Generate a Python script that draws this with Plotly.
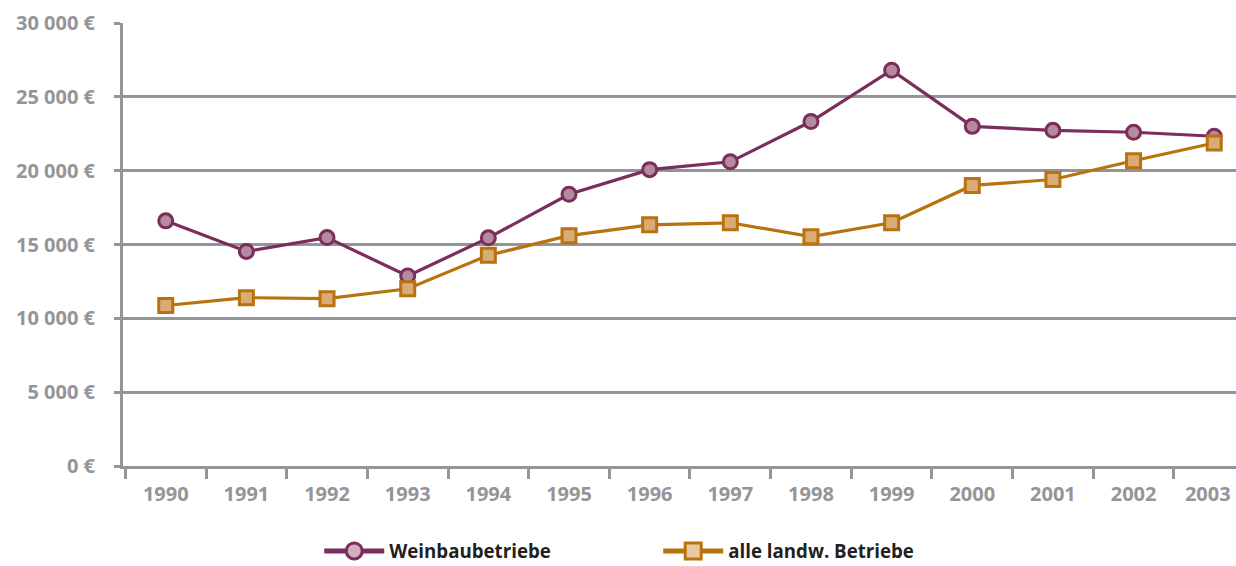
import plotly.graph_objects as go

years = ["1990", "1991", "1992", "1993", "1994", "1995", "1996", "1997",
         "1998", "1999", "2000", "2001", "2002", "2003"]
weinbau = [16600, 14530, 15470, 12870, 15450, 18400, 20070, 20600,
           23330, 26800, 23000, 22730, 22600, 22330]
landw = [10870, 11400, 11330, 12000, 14270, 15600, 16330, 16470,
         15530, 16470, 19000, 19400, 20670, 21870]
y_ticks = [0, 5000, 10000, 15000, 20000, 25000, 30000]
y_labels = ["0 €", "5 000 €", "10 000 €", "15 000 €", "20 000 €",
            "25 000 €", "30 000 €"]

GRAY = "#939598"
FONT = "Open Sans"
WEIN_LINE, WEIN_FILL, WEIN_LEG = "#7b2d5b", "#b58a9e", "#d2b1be"
LAND_LINE, LAND_FILL, LAND_LEG = "#b8730e", "#d9ab75", "#e9c9a0"

xi = list(range(len(years)))
label_pos = xi[:-1] + [xi[-1] - 0.08]
boundaries = [i - 0.5 for i in range(len(years) + 1)]

fig = go.Figure()
fig.add_trace(go.Scatter(
    x=xi, y=weinbau, name="Weinbaubetriebe", mode="lines+markers",
    line=dict(color=WEIN_LINE, width=3.2),
    marker=dict(symbol="circle", size=14, color=WEIN_FILL,
                line=dict(color=WEIN_LINE, width=3)),
    cliponaxis=False, showlegend=False,
))
fig.add_trace(go.Scatter(
    x=xi, y=landw, name="alle landw. Betriebe", mode="lines+markers",
    line=dict(color=LAND_LINE, width=3.2),
    marker=dict(symbol="square", size=14, color=LAND_FILL,
                line=dict(color=LAND_LINE, width=3)),
    cliponaxis=False, showlegend=False,
))
# legend-only entries (legend symbols are drawn lighter and bolder)
fig.add_trace(go.Scatter(
    x=[None], y=[None], name="Weinbaubetriebe", mode="lines+markers",
    line=dict(color=WEIN_LINE, width=5),
    marker=dict(symbol="circle", size=16, color=WEIN_LEG,
                line=dict(color=WEIN_LINE, width=3)),
))
fig.add_trace(go.Scatter(
    x=[None], y=[None], name="alle landw. Betriebe", mode="lines+markers",
    line=dict(color=LAND_LINE, width=5),
    marker=dict(symbol="square", size=16, color=LAND_LEG,
                line=dict(color=LAND_LINE, width=3)),
))

fig.update_layout(
    width=1236, height=566,
    margin=dict(l=123, r=0, t=23, b=100),
    paper_bgcolor="white", plot_bgcolor="white",
    font=dict(family=FONT, size=20, color=GRAY),
    showlegend=True,
    legend=dict(
        orientation="h", x=0.1763, xanchor="left",
        yref="container", y=0.026, yanchor="middle",
        font=dict(family=FONT, size=18.7, color="#231f20", weight="bold"),
        entrywidth=264, entrywidthmode="pixels", itemwidth=60,
        bgcolor="rgba(0,0,0,0)",
    ),
    xaxis=dict(
        range=[-0.53, 13.27], showline=True, linecolor=GRAY, linewidth=3,
        tickmode="array", tickvals=label_pos, ticktext=years,
        ticks="", ticklabelstandoff=8, showgrid=False, zeroline=False,
        tickfont=dict(family=FONT, size=20, color=GRAY, weight="bold"),
        minor=dict(tickmode="array", tickvals=boundaries, ticks="outside",
                   ticklen=10, tickwidth=3, tickcolor=GRAY, showgrid=False),
    ),
    yaxis=dict(
        range=[0, 30000], tickmode="array", tickvals=y_ticks, ticktext=y_labels,
        showline=True, linecolor=GRAY, linewidth=3,
        showgrid=True, gridcolor=GRAY, gridwidth=3,
        zeroline=False,
        ticks="outside", ticklen=6, tickwidth=3, tickcolor=GRAY,
        tickfont=dict(family=FONT, size=20, color=GRAY, weight="bold"),
        ticklabelstandoff=15,
    ),
)

fig.write_html(
    "out.html",
    config={"displayModeBar": False},
    post_script="document.body.style.margin='0';document.body.style.overflow='hidden';",
)
